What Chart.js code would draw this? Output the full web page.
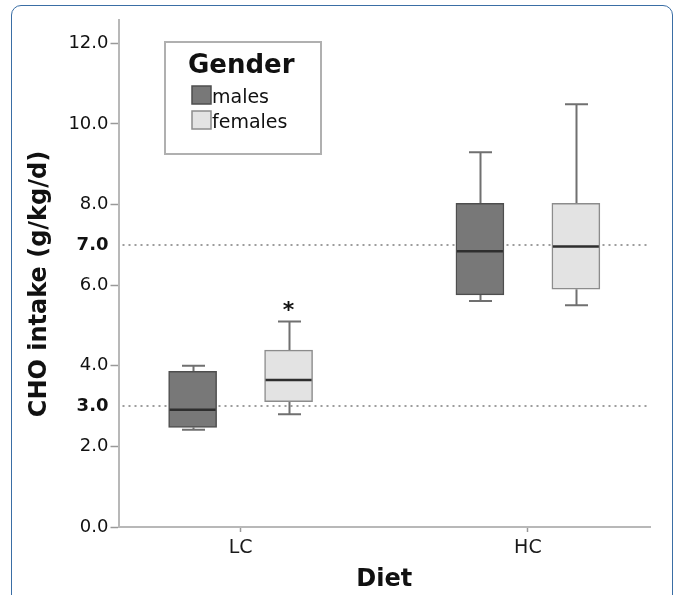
<!DOCTYPE html>
<html>
<head>
<meta charset="utf-8">
<script src="https://cdn.jsdelivr.net/npm/chart.js@4.4.1/dist/chart.umd.min.js"></script>
<style>
  html, body { margin: 0; padding: 0; background: #fff; overflow: hidden; }
  #frame { position: absolute; left: 11px; top: 5px; width: 660px; height: 700px;
           border: 1.5px solid #3a6ea5; border-radius: 10px; }
  #chart { position: absolute; left: 0; top: 0; }
</style>
</head>
<body>
<div id="frame"></div>
<canvas id="chart" width="677" height="595"></canvas>
<script>
// categories
const diets = ["LC", "HC"];
const groups = ["males", "females"];

// box plot statistics (g/kg/d)
const maleMin    = [2.41, 5.61];
const maleQ1     = [2.47, 5.76];
const maleMedian = [2.91, 6.84];
const maleQ3     = [3.86, 8.03];
const maleMax    = [4.00, 9.30];

const femaleMin    = [2.80, 5.50];
const femaleQ1     = [3.11, 5.90];
const femaleMedian = [3.65, 6.96];
const femaleQ3     = [4.39, 8.03];
const femaleMax    = [5.10, 10.49];

// significance marks above the female boxes
const femaleSig = ["*", ""];

// axis ticks and reference lines
const yTicks = [0, 2, 4, 6, 8, 10, 12];
const refLines = [3, 7];
const yTitle = "CHO intake (g/kg/d)";

const FONT = "'DejaVu Sans', sans-serif";
const shift = 0.167;   // half the distance between males and females in a diet group

const stats = [
  { label: groups[0], min: maleMin, q1: maleQ1, med: maleMedian, q3: maleQ3, max: maleMax,
    fill: "#787878", border: "#4e4e4e", off: -shift, sig: null },
  { label: groups[1], min: femaleMin, q1: femaleQ1, med: femaleMedian, q3: femaleQ3, max: femaleMax,
    fill: "#e3e3e3", border: "#8c8c8c", off: shift, sig: femaleSig }
];

const boxExtras = {
  id: "boxExtras",
  beforeDatasetsDraw(chart) {
    const { ctx, chartArea, scales: { x, y } } = chart;
    ctx.save();
    // y axis title, a little below the middle of the axis as in the figure
    ctx.translate(40, 284);
    ctx.rotate(-Math.PI / 2);
    ctx.fillStyle = "#111";
    ctx.font = "bold 24px " + FONT;
    ctx.textAlign = "center";
    ctx.textBaseline = "middle";
    ctx.fillText(yTitle, 0, 0);
    ctx.setTransform(1, 0, 0, 1, 0, 0);
    // dotted reference lines
    ctx.strokeStyle = "#9d9d9d";
    ctx.lineWidth = 2;
    ctx.setLineDash([2, 4]);
    refLines.forEach(v => {
      const py = Math.round(y.getPixelForValue(v));
      ctx.beginPath();
      ctx.moveTo(chartArea.left + 4, py);
      ctx.lineTo(chartArea.right, py);
      ctx.stroke();
    });
    ctx.setLineDash([]);
    // whiskers
    ctx.strokeStyle = "#707070";
    ctx.lineWidth = 2;
    stats.forEach(s => {
      diets.forEach((d, i) => {
        const px = Math.round(x.getPixelForValue(i + 1 + s.off)) + 0.5;
        const cap = 11.5;
        [[s.q3[i], s.max[i]], [s.q1[i], s.min[i]]].forEach(([from, to]) => {
          const p1 = y.getPixelForValue(from), p2 = y.getPixelForValue(to);
          ctx.beginPath();
          ctx.moveTo(px, p1); ctx.lineTo(px, p2);
          ctx.moveTo(px - cap, p2); ctx.lineTo(px + cap, p2);
          ctx.stroke();
        });
      });
    });
    ctx.restore();
  },
  afterDatasetsDraw(chart) {
    const { ctx, scales: { x, y } } = chart;
    ctx.save();
    // medians
    ctx.strokeStyle = "#2e2e2e";
    ctx.lineWidth = 2.5;
    stats.forEach(s => {
      diets.forEach((d, i) => {
        const px = x.getPixelForValue(i + 1 + s.off);
        const py = y.getPixelForValue(s.med[i]);
        ctx.beginPath();
        ctx.moveTo(px - 23, py); ctx.lineTo(px + 23, py);
        ctx.stroke();
        if (s.sig && s.sig[i]) {
          ctx.fillStyle = "#111";
          ctx.font = "bold 22px " + FONT;
          ctx.textAlign = "center";
          ctx.textBaseline = "alphabetic";
          ctx.fillText(s.sig[i], px, y.getPixelForValue(s.max[i]) - 4);
        }
      });
    });
    // legend
    ctx.strokeStyle = "#b0b0b0";
    ctx.lineWidth = 2;
    ctx.strokeRect(165, 42, 156, 112);
    ctx.fillStyle = "#111";
    ctx.textAlign = "left";
    ctx.textBaseline = "alphabetic";
    ctx.font = "bold 26px " + FONT;
    ctx.fillText("Gender", 188, 73);
    chart.data.datasets.forEach((ds, k) => {
      const top = 86 + k * 25;
      ctx.fillStyle = ds.backgroundColor;
      ctx.fillRect(192, top, 19, 18);
      ctx.strokeStyle = ds.borderColor;
      ctx.lineWidth = 1.5;
      ctx.strokeRect(192, top, 19, 18);
      ctx.fillStyle = "#111";
      ctx.font = "19px " + FONT;
      ctx.fillText(ds.label, 212, top + 17);
    });
    ctx.restore();
  }
};

new Chart(document.getElementById("chart"), {
  type: "bar",
  data: {
    datasets: stats.map(s => ({
      label: s.label,
      data: diets.map((d, i) => ({ x: i + 1 + s.off, y: [s.q1[i], s.q3[i]] })),
      backgroundColor: s.fill,
      borderColor: s.border,
      borderWidth: 1.5,
      borderSkipped: false,
      barThickness: 48,
      grouped: false
    }))
  },
  options: {
    responsive: false,
    animation: false,
    layout: { padding: { top: 20, right: 27, left: 0, bottom: 0 } },
    plugins: { legend: { display: false }, tooltip: { enabled: false } },
    scales: {
      x: {
        type: "linear",
        offset: false,
        min: 0.575,
        max: 2.425,
        afterBuildTicks: scale => { scale.ticks = diets.map((d, i) => ({ value: i + 1 })); },
        afterFit: scale => { scale.height = 68; },
        ticks: {
          callback: v => diets[v - 1] || "",
          color: "#1a1a1a",
          font: { family: FONT, size: 19 },
          padding: 5,
          maxRotation: 0
        },
        grid: { offset: false, drawOnChartArea: false, tickLength: 5, tickColor: "#999", tickWidth: 1.5 },
        border: { color: "#b8b8b8", width: 2 },
        title: { display: true, text: "Diet", color: "#111",
                 font: { family: FONT, size: 24, weight: "bold" }, padding: { top: 0, bottom: 1 } }
      },
      y: {
        min: 0,
        max: 12.58,
        afterBuildTicks: scale => {
          scale.ticks = yTicks.concat(refLines).sort((a, b) => a - b).map(v => ({ value: v }));
        },
        afterFit: scale => { scale.width = 118.5; },
        ticks: {
          callback: v => v.toFixed(1),
          color: "#111",
          font: ctx => ({ family: FONT, size: 18,
                          weight: refLines.includes(ctx.tick && ctx.tick.value) ? "bold" : "normal" }),
          padding: 2
        },
        grid: {
          drawOnChartArea: false,
          tickLength: 8,
          tickWidth: 1.5,
          tickColor: ctx => refLines.includes(ctx.tick && ctx.tick.value) ? "rgba(0,0,0,0)" : "#999"
        },
        border: { color: "#b8b8b8", width: 2 }
      }
    }
  },
  plugins: [boxExtras]
});
</script>
</body>
</html>
